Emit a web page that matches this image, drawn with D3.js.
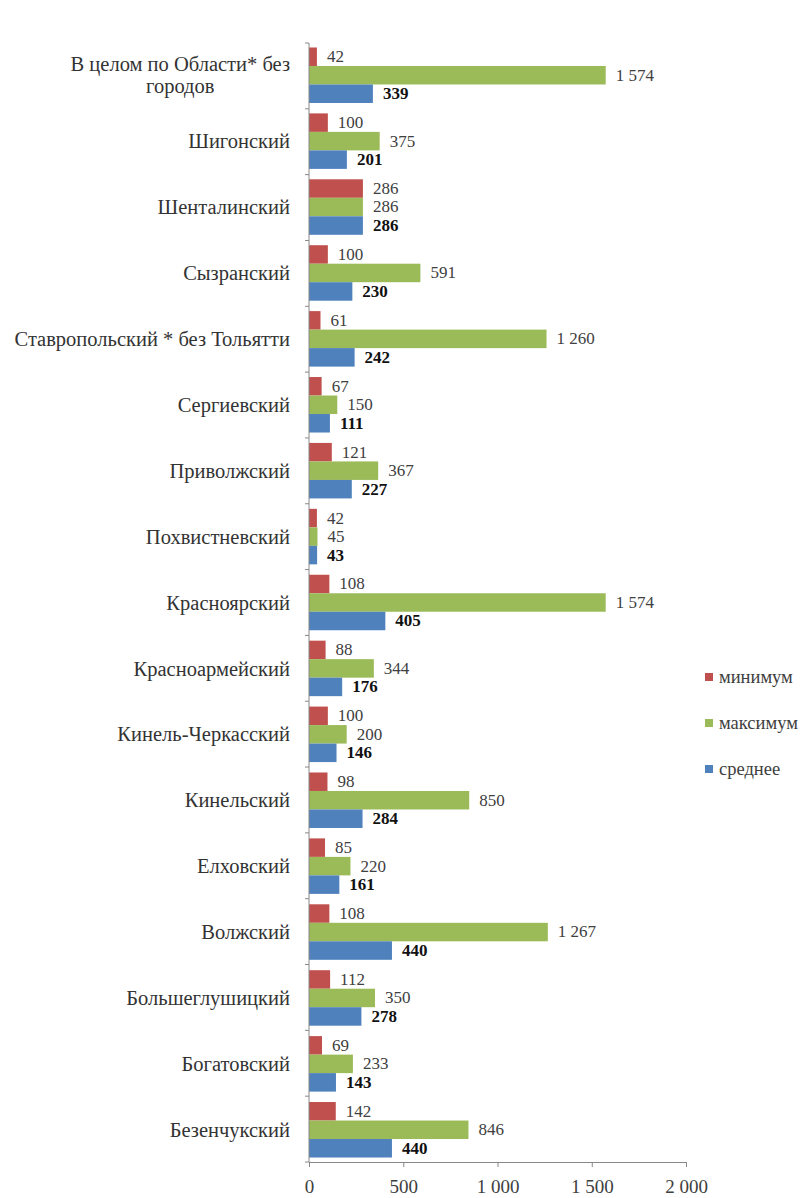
<!DOCTYPE html>
<html>
<head>
<meta charset="utf-8">
<script src="https://cdn.jsdelivr.net/npm/d3@7"></script>
<style>
  body { margin: 0; background: #fff; }
</style>
</head>
<body>
<svg></svg>
<script>
// categories top to bottom
var categories = ["В целом по Области* без\nгородов", "Шигонский", "Шенталинский", "Сызранский",
  "Ставропольский * без Тольятти", "Сергиевский", "Приволжский", "Похвистневский", "Красноярский",
  "Красноармейский", "Кинель-Черкасский", "Кинельский", "Елховский", "Волжский",
  "Большеглушицкий", "Богатовский", "Безенчукский"];
var minimum = [42, 100, 286, 100, 61, 67, 121, 42, 108, 88, 100, 98, 85, 108, 112, 69, 142];
var maximum = [1574, 375, 286, 591, 1260, 150, 367, 45, 1574, 344, 200, 850, 220, 1267, 350, 233, 846];
var average = [339, 201, 286, 230, 242, 111, 227, 43, 405, 176, 146, 284, 161, 440, 278, 143, 440];
var seriesNames = ["минимум", "максимум", "среднее"];
var seriesColors = ["#C0504D", "#9BBB59", "#4F81BD"];
var xTicks = [0, 500, 1000, 1500, 2000];

var series = [minimum, maximum, average];
var font = "'Liberation Serif', 'Times New Roman', serif";

var width = 805, height = 1198;
var svg = d3.select("svg").attr("width", width).attr("height", height)
  .attr("font-family", font);

var ru = d3.formatLocale({ decimal: ",", thousands: " ", grouping: [3], currency: ["", ""] });
var fmt = ru.format(",d");

var x = d3.scaleLinear().domain([0, 2000]).range([309, 686]);
var y = d3.scaleBand().domain(categories).range([43, 1162]).paddingInner(0.158).paddingOuter(0.068);
var ySub = d3.scaleBand().domain(d3.range(3)).range([0, y.bandwidth()]);

// bars
var groups = svg.append("g").selectAll("g")
  .data(categories)
  .enter().append("g")
  .attr("transform", d => "translate(0," + y(d) + ")");

groups.each(function(cat, i) {
  var g = d3.select(this);
  series.forEach(function(vals, s) {
    g.append("rect")
      .attr("x", x(0))
      .attr("y", ySub(s))
      .attr("width", x(vals[i]) - x(0))
      .attr("height", ySub.bandwidth())
      .attr("fill", seriesColors[s]);
    g.append("text")
      .attr("x", x(vals[i]) + 10)
      .attr("y", ySub(s) + ySub.bandwidth() / 2)
      .attr("dy", "0.32em")
      .attr("font-family", font)
      .attr("font-size", 17)
      .attr("font-weight", s == 2 ? "bold" : "normal")
      .attr("fill", s == 2 ? "#111" : "#404040")
      .text(fmt(vals[i]));
  });
});

// left axis line + ticks between categories
svg.append("line")
  .attr("x1", x(0)).attr("x2", x(0))
  .attr("y1", 43).attr("y2", 1162)
  .attr("stroke", "#888");
var step = (1162 - 43) / categories.length;
svg.append("g").selectAll("line")
  .data(d3.range(categories.length + 1))
  .enter().append("line")
  .attr("x1", x(0) - 4).attr("x2", x(0))
  .attr("y1", d => 43 + d * step).attr("y2", d => 43 + d * step)
  .attr("stroke", "#888");

// category labels
svg.append("g").selectAll("text")
  .data(categories)
  .enter().append("text")
  .attr("font-family", font)
  .attr("font-size", 20.5)
  .attr("fill", "#333")
  .each(function(d) {
    var t = d3.select(this);
    var lines = d.split("\n");
    var cy = y(d) + y.bandwidth() / 2;
    if (lines.length == 1) {
      t.attr("x", 290).attr("y", cy).attr("dy", "0.35em")
        .attr("text-anchor", "end").text(d);
    } else {
      t.attr("text-anchor", "middle");
      var tmp = t.append("tspan").text(lines[0]);
      var w = tmp.node().getComputedTextLength();
      tmp.remove();
      var cx = 290 - w / 2;
      lines.forEach(function(l, k) {
        t.append("tspan")
          .attr("x", cx)
          .attr("y", cy + (k - (lines.length - 1) / 2) * 22)
          .attr("dy", "0.35em")
          .text(l);
      });
    }
  });

// bottom axis
var xAxis = svg.append("g")
  .attr("transform", "translate(0,1162)")
  .call(d3.axisBottom(x).tickValues(xTicks).tickSize(5).tickFormat(fmt));
xAxis.attr("font-family", font);
xAxis.select(".domain").attr("stroke", "#888");
xAxis.selectAll(".tick line").attr("stroke", "#888");
xAxis.selectAll(".tick text")
  .attr("font-size", 19)
  .attr("y", 31)
  .attr("dy", 0)
  .attr("fill", "#404040");

// legend
var legend = svg.append("g").selectAll("g")
  .data(seriesNames)
  .enter().append("g")
  .attr("transform", (d, i) => "translate(705," + (677 + i * 46) + ")");
legend.append("rect")
  .attr("x", 0).attr("y", -4)
  .attr("width", 8).attr("height", 8)
  .attr("fill", (d, i) => seriesColors[i]);
legend.append("text")
  .attr("x", 14).attr("y", 0).attr("dy", "0.32em")
  .attr("font-family", font)
  .attr("font-size", 18.5)
  .attr("fill", "#404040")
  .text(d => d);
</script>
</body>
</html>
